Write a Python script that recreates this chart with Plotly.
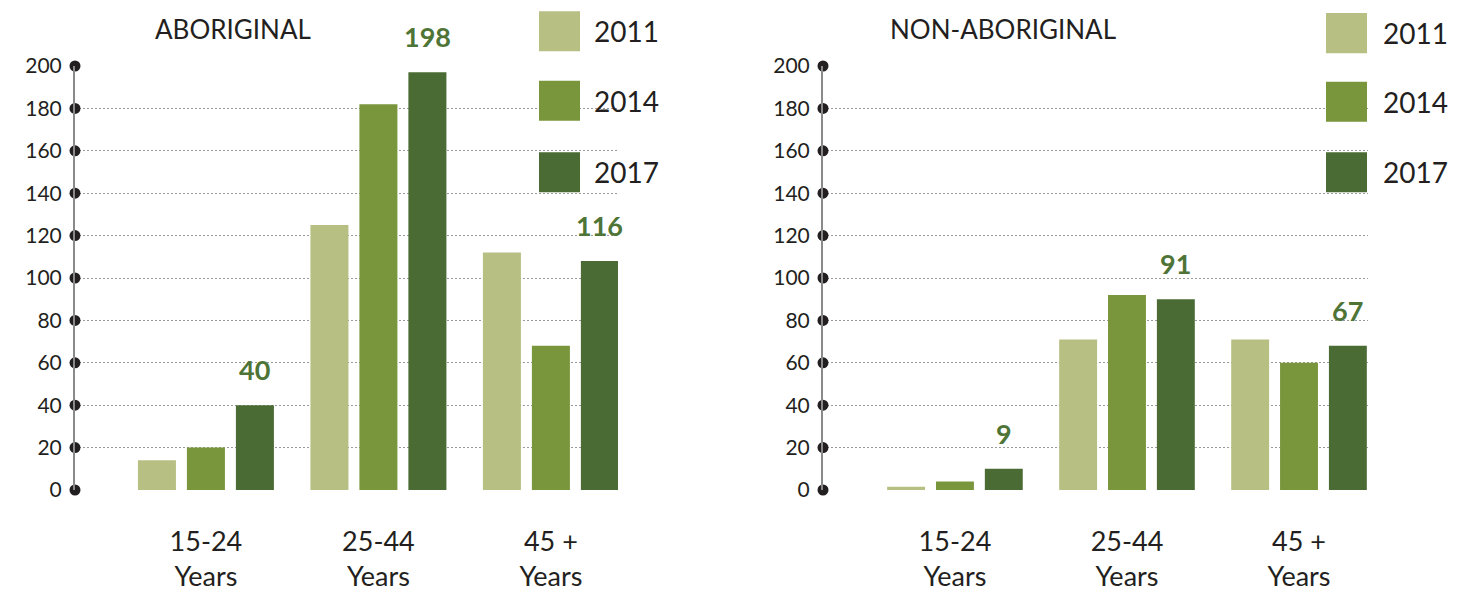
import plotly.graph_objects as go

# data
age_groups = ["15-24<br>Years", "25-44<br>Years", "45 +<br>Years"]
years = ["2011", "2014", "2017"]
colors = ["#b7bf83", "#7a963c", "#4a6b33"]

abor_2011 = [14, 125, 112]
abor_2014 = [20, 182, 68]
abor_2017 = [40, 197, 108]
abor_labels = ["40", "198", "116"]

nonab_2011 = [1.5, 71, 71]
nonab_2014 = [4, 92, 60]
nonab_2017 = [10, 90, 68]
nonab_labels = ["9", "91", "67"]

y_ticks = [0, 20, 40, 60, 80, 100, 120, 140, 160, 180, 200]

# page body adds an 8px margin, so the figure is drawn 8px smaller and everything shifted
OFF = 8
W, H = 1484 - OFF, 592 - OFF
TOP, BOT = 66 - OFF, 499 - OFF
FONT = "Lato, 'Open Sans', sans-serif"
TXT = "#231f20"
LBL = "#4e7436"

bargap = 0.148
bargroupgap = 0.224


def px_x(px):
    return (px - OFF) / W


def px_y(py):
    return (BOT - (py - OFF)) / (BOT - TOP)


fig = go.Figure()

panels = [
    dict(xa="x", ya="y", series=[abor_2011, abor_2014, abor_2017], labels=abor_labels,
         rng=[-0.759, 2.389]),
    dict(xa="x2", ya="y2", series=[nonab_2011, nonab_2014, nonab_2017], labels=nonab_labels,
         rng=[-0.767, 2.401]),
]

for p in panels:
    for yr, vals, col in zip(years, p["series"], colors):
        fig.add_trace(go.Bar(
            x=[0, 1, 2], y=vals, name=yr, marker_color=col,
            marker_line_width=0, xaxis=p["xa"], yaxis=p["ya"],
            showlegend=False, hoverinfo="skip"))
    # tick dots on y axis
    fig.add_trace(go.Scatter(
        x=[p["rng"][0]] * len(y_ticks), y=y_ticks, mode="markers",
        marker=dict(size=11, color=TXT), cliponaxis=False,
        xaxis=p["xa"], yaxis=p["ya"], showlegend=False, hoverinfo="skip"))
    # value labels above the 2017 bars
    slot = (1 - bargap) / 3
    for i, (v, lab) in enumerate(zip(p["series"][2], p["labels"])):
        fig.add_annotation(
            x=i + slot, y=v, xref=p["xa"], yref=p["ya"], text="<b>" + lab + "</b>",
            showarrow=False, xanchor="center", yanchor="bottom", yshift=17,
            font=dict(family=FONT, size=27, color=LBL))

axis_common = dict(
    tickvals=[0, 1, 2], ticktext=age_groups, showgrid=False, zeroline=False,
    showline=False, tickfont=dict(family=FONT, size=27, color=TXT),
    ticks="", ticklabelstandoff=33)
yaxis_common = dict(
    range=[0, 200], tickvals=y_ticks, showgrid=True, griddash="2px,2px",
    gridcolor="#9a9a9a", gridwidth=1, zeroline=False, showline=True,
    linecolor="#8a8a8a", linewidth=2, ticks="outside", ticklen=7,
    tickcolor="rgba(0,0,0,0)", tickfont=dict(family=FONT, size=21, color=TXT),
    domain=[0, 1])

fig.update_layout(
    xaxis=dict(domain=[px_x(75), px_x(618)], range=panels[0]["rng"], anchor="y", **axis_common),
    xaxis2=dict(domain=[px_x(823), px_x(1368)], range=panels[1]["rng"], anchor="y2", **axis_common),
    yaxis=dict(anchor="x", **yaxis_common),
    yaxis2=dict(anchor="x2", **yaxis_common),
)

# panel titles
for title, cx in [("ABORIGINAL", 233), ("NON-ABORIGINAL", 1003)]:
    fig.add_annotation(x=px_x(cx), y=px_y(28), xref="paper", yref="paper", text=title,
                       showarrow=False, xanchor="center", yanchor="middle",
                       font=dict(family=FONT, size=26, color=TXT))

# legends (square swatches + year text)
for sq_x0, tops, tx in [(539, [10, 81, 154], 592), (1326, [12, 82, 154], 1381)]:
    for yr, col, top in zip(years, colors, tops):
        fig.add_shape(type="rect", xref="paper", yref="paper",
                      x0=px_x(sq_x0), x1=px_x(sq_x0 + 41), y0=px_y(top + 41), y1=px_y(top),
                      fillcolor=col, line_width=0)
        fig.add_annotation(x=px_x(tx), y=px_y(top + 20.5), xref="paper", yref="paper",
                           text=yr, showarrow=False, xanchor="left", yanchor="middle",
                           font=dict(family=FONT, size=28, color=TXT))

fig.update_layout(
    width=W, height=H, barmode="group", bargap=bargap, bargroupgap=bargroupgap,
    margin=dict(l=0, r=0, t=TOP, b=H - BOT),
    paper_bgcolor="white", plot_bgcolor="white",
    font=dict(family=FONT, color=TXT),
)

fig.write_html("out.html")
